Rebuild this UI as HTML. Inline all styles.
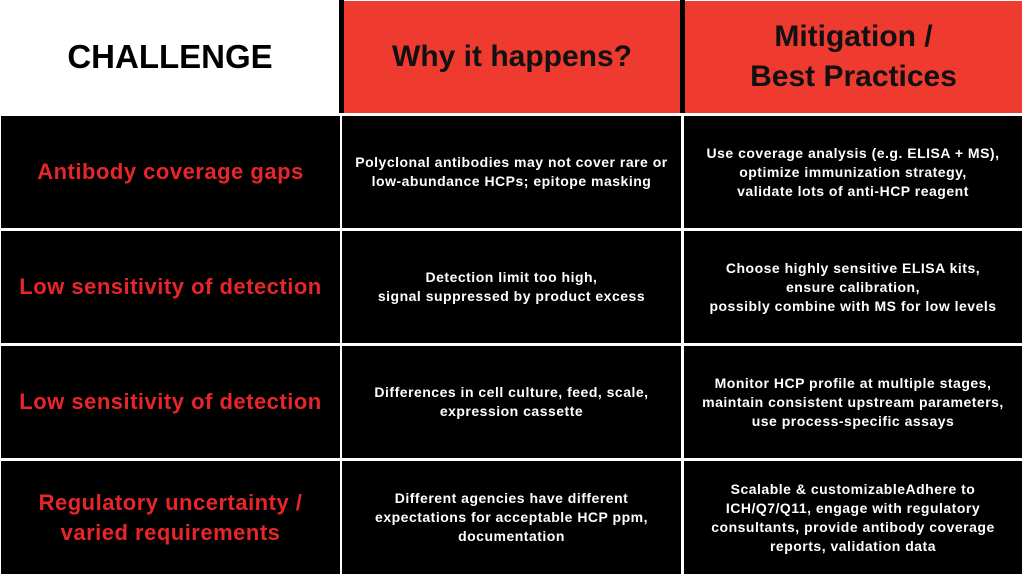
<!DOCTYPE html>
<html><head><style>
body{margin:0;width:1024px;height:576px;background:#fff;position:relative;overflow:hidden;font-family:"Liberation Sans",sans-serif;font-weight:bold}
.c{position:absolute;display:flex;align-items:center;justify-content:center;text-align:center;box-sizing:border-box}
.h{background:#ef3a2f;color:#111}
.k{background:#000;color:#fff;font-size:14px;line-height:19px;letter-spacing:0.5px}
.r{color:#e8262a !important;font-size:22px !important;line-height:30px !important;letter-spacing:0.5px}
</style></head><body>
<div class="c" style="left:0;top:0;width:340px;height:113px;background:#fff;color:#000;font-size:33px">CHALLENGE</div>
<div style="position:absolute;left:339px;top:0;width:5px;height:113px;background:#000"></div>
<div class="c h" style="left:344px;top:1px;width:336px;height:112px;font-size:30px">Why it happens?</div>
<div style="position:absolute;left:680px;top:0;width:5px;height:113px;background:#000"></div>
<div class="c h" style="left:685px;top:1px;width:337px;height:112px;font-size:30px;line-height:40px">Mitigation /<br>Best Practices</div>

<div class="c k r" style="left:1px;top:116px;width:339px;height:112px">Antibody coverage gaps</div>
<div class="c k" style="left:342px;top:116px;width:339px;height:112px">Polyclonal antibodies may not cover rare or<br>low-abundance HCPs; epitope masking</div>
<div class="c k" style="left:684px;top:116px;width:338px;height:112px">Use coverage analysis (e.g. ELISA + MS),<br>optimize immunization strategy,<br>validate lots of anti-HCP reagent</div>

<div class="c k r" style="left:1px;top:231px;width:339px;height:112px">Low sensitivity of detection</div>
<div class="c k" style="left:342px;top:231px;width:339px;height:112px">Detection limit too high,<br>signal suppressed by product excess</div>
<div class="c k" style="left:684px;top:231px;width:338px;height:112px">Choose highly sensitive ELISA kits,<br>ensure calibration,<br>possibly combine with MS for low levels</div>

<div class="c k r" style="left:1px;top:346px;width:339px;height:112px">Low sensitivity of detection</div>
<div class="c k" style="left:342px;top:346px;width:339px;height:112px">Differences in cell culture, feed, scale,<br>expression cassette</div>
<div class="c k" style="left:684px;top:346px;width:338px;height:112px">Monitor HCP profile at multiple stages,<br>maintain consistent upstream parameters,<br>use process-specific assays</div>

<div class="c k r" style="left:1px;top:461px;width:339px;height:113px">Regulatory uncertainty /<br>varied requirements</div>
<div class="c k" style="left:342px;top:461px;width:339px;height:113px">Different agencies have different<br>expectations for acceptable HCP ppm,<br>documentation</div>
<div class="c k" style="left:684px;top:461px;width:338px;height:113px">Scalable &amp; customizableAdhere to<br>ICH/Q7/Q11, engage with regulatory<br>consultants, provide antibody coverage<br>reports, validation data</div>
</body></html>
